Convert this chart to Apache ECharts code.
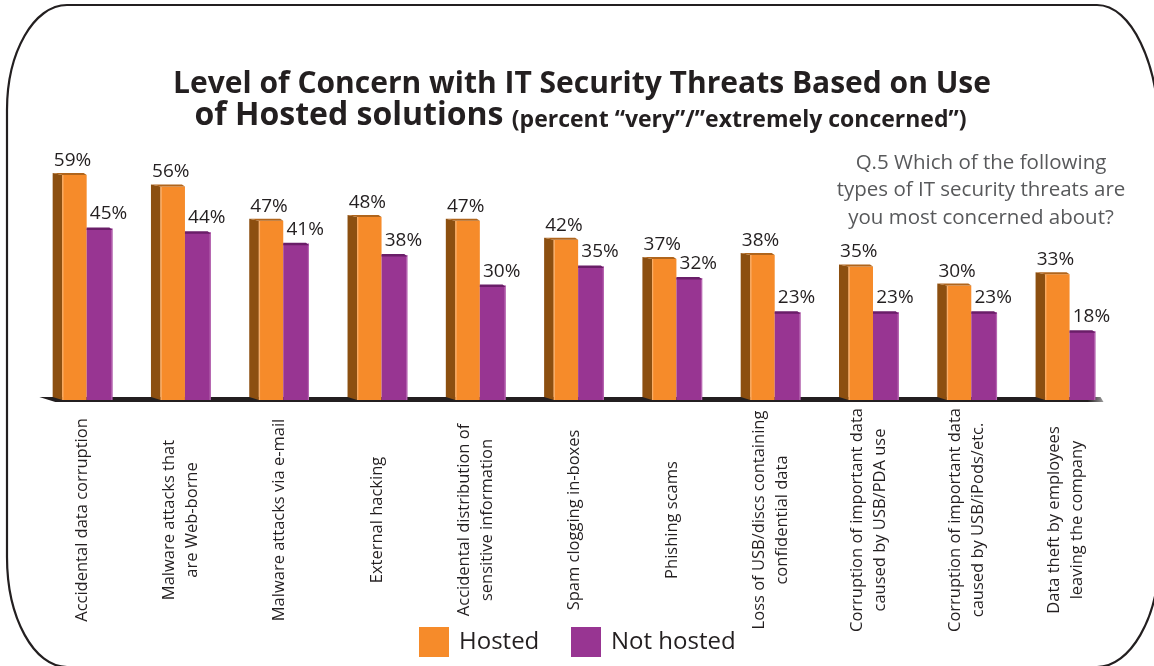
<!DOCTYPE html>
<html>
<head>
<meta charset="utf-8">
<title>Level of Concern with IT Security Threats</title>
<script src="https://cdn.jsdelivr.net/npm/echarts@6/dist/echarts.min.js"></script>
<style>
  html, body { margin: 0; padding: 0; background: #ffffff; }
  #chart { width: 1154px; height: 666px; }
</style>
</head>
<body>
<div id="chart"></div>
<script>
// ---- data ----
const categories = [
  'Accidental data corruption',
  'Malware attacks that\nare Web-borne',
  'Malware attacks via e-mail',
  'External hacking',
  'Accidental distribution of\nsensitive information',
  'Spam clogging in-boxes',
  'Phishing scams',
  'Loss of USB/discs containing\nconfidential data',
  'Corruption of important data\ncaused by USB/PDA use',
  'Corruption of important data\ncaused by USB/iPods/etc.',
  'Data theft by employees\nleaving the company'
];
const hosted    = [59, 56, 47, 48, 47, 42, 37, 38, 35, 30, 33];
const notHosted = [45, 44, 41, 38, 30, 35, 32, 23, 23, 23, 18];
const seriesNames = ['Hosted', 'Not hosted'];
const titleLine1 = 'Level of Concern with IT Security Threats Based on Use';
const titleLine2 = 'of Hosted solutions';
const titleNote = '(percent \u201Cvery\u201D/\u201Dextremely concerned\u201D)';
const questionLines = [
  'Q.5 Which of the following',
  'types of IT security threats are',
  'you most concerned about?'
];

// ---- styling ----
const FONT = '"Open Sans", "Noto Sans", sans-serif';
const INK = '#231f20';
const ORANGE = '#f68b2a';
const ORANGE_SIDE = '#8c4f10';
const PURPLE = '#983592';
const PURPLE_TOP = '#6a1e68';

// Bars are drawn as small 3D prisms: a dark left face plus the front face.
function renderHosted(params, api) {
  const i = api.value(0), v = api.value(1);
  const base = api.coord([i, 0]);
  const top = api.coord([i, v]);
  const band = api.size([1, 0])[0];
  const side = band * 0.098;
  const w = band * 0.248;
  const x0 = base[0] - band * 0.205;
  const y0 = base[1], yt = top[1];
  return {
    type: 'group',
    children: [
      { type: 'polygon', shape: { points: [[x0 - side, yt - 2], [x0, yt], [x0, y0], [x0 - side, y0 - 3]] },
        style: { fill: ORANGE_SIDE } },
      { type: 'rect', shape: { x: x0, y: yt, width: w, height: y0 - yt }, style: { fill: ORANGE } },
      { type: 'rect', shape: { x: x0, y: yt, width: 1.2, height: y0 - yt }, style: { fill: '#f9ae68' } },
      { type: 'polygon', shape: { points: [[x0 - side, yt - 2], [x0 + w - 3, yt - 2], [x0 + w, yt], [x0, yt]] },
        style: { fill: '#b0651c' } },
      { type: 'text', style: { text: v + '%', x: x0 + w / 2 - 2, y: yt - 5, align: 'center', verticalAlign: 'bottom',
        font: '19px ' + FONT, fill: INK } }
    ]
  };
}

function renderNotHosted(params, api) {
  const i = api.value(0), v = api.value(1);
  const base = api.coord([i, 0]);
  const top = api.coord([i, v]);
  const band = api.size([1, 0])[0];
  const w = band * 0.262;
  const x0 = base[0] + band * 0.043;
  const y0 = base[1], yt = top[1];
  return {
    type: 'group',
    children: [
      { type: 'rect', shape: { x: x0, y: yt, width: w, height: y0 - yt }, style: { fill: PURPLE } },
      { type: 'rect', shape: { x: x0 + w - 1.2, y: yt, width: 1.2, height: y0 - yt }, style: { fill: '#b766b1' } },
      { type: 'polygon', shape: { points: [[x0, yt - 1], [x0 + w - 3, yt - 1], [x0 + w, yt + 1.5], [x0, yt + 1.5]] },
        style: { fill: PURPLE_TOP } },
      { type: 'text', style: { text: v + '%', x: x0 + w / 2 + 9, y: yt - 5, align: 'center', verticalAlign: 'bottom',
        font: '19px ' + FONT, fill: INK } }
    ]
  };
}

// Dark floor strip under the bars
function renderFloor(params, api) {
  const cs = params.coordSys;
  const by = api.coord([0, 0])[1];
  const left = cs.x + 6, right = cs.x + cs.width - 14;
  return {
    type: 'polygon',
    shape: { points: [[left, by - 3], [right, by - 3], [right + 3, by + 2], [left + 16, by + 2]] },
    style: {
      fill: {
        type: 'linear', x: 0, y: 0, x2: 1, y2: 0,
        colorStops: [
          { offset: 0, color: INK }, { offset: 0.985, color: INK }, { offset: 1, color: '#9a9a9a' }
        ]
      }
    }
  };
}

// Rounded frame built from straight edges and elliptical corners
const frameStyle = { stroke: INK, lineWidth: 2.2, fill: null };
function edge(x1, y1, x2, y2) {
  return { type: 'line', silent: true, shape: { x1, y1, x2, y2 }, style: frameStyle };
}
function corner(x1, y1, cpx1, cpy1, cpx2, cpy2, x2, y2) {
  return { type: 'bezierCurve', silent: true, shape: { x1, y1, cpx1, cpy1, cpx2, cpy2, x2, y2 }, style: frameStyle };
}

const chart = echarts.init(document.getElementById('chart'), null, { renderer: 'canvas' });

const legendBase = {
  orient: 'horizontal', padding: 0, itemWidth: 30, itemHeight: 30, icon: 'rect',
  selectedMode: false, top: 627,
  textStyle: { fontFamily: FONT, fontSize: 24, color: INK, padding: [0, 0, 0, 5] }
};

chart.setOption({
  animation: false,
  backgroundColor: '#ffffff',
  grid: { left: 33.3, right: 39.5, top: 171.2, bottom: 266, containLabel: false },
  xAxis: {
    type: 'category',
    data: categories,
    axisLine: { show: false },
    axisTick: { show: false },
    axisLabel: {
      interval: 0, rotate: 90, margin: 120, align: 'center', verticalAlign: 'middle',
      fontFamily: FONT, fontSize: 16.5, lineHeight: 23, color: INK
    }
  },
  yAxis: { type: 'value', min: 0, max: 60, show: false },
  legend: [
    Object.assign({}, legendBase, { left: 419, data: [seriesNames[0]] }),
    Object.assign({}, legendBase, { left: 571, data: [seriesNames[1]] })
  ],
  series: [
    { type: 'custom', name: 'floor', renderItem: renderFloor, data: [[0, 0]], z: 1, silent: true },
    { type: 'custom', name: seriesNames[0], renderItem: renderHosted, itemStyle: { color: ORANGE },
      data: hosted.map((v, i) => [i, v]), z: 2 },
    { type: 'custom', name: seriesNames[1], renderItem: renderNotHosted, itemStyle: { color: PURPLE },
      data: notHosted.map((v, i) => [i, v]), z: 2 }
  ],
  graphic: [
    { type: 'group', silent: true, children: [
      edge(67, 5, 1097, 5),
      corner(1097, 5, 1131, 5, 1159, 63, 1159, 135),
      edge(1159, 135, 1159, 557),
      corner(1159, 557, 1159, 618, 1130, 667, 1097, 667),
      edge(1097, 667, 67, 667),
      corner(67, 667, 34, 667, 7, 618, 7, 557),
      edge(7, 557, 7, 110),
      corner(7, 110, 7, 52, 34, 5, 67, 5)
    ] },
    { type: 'text', silent: true,
      style: { text: titleLine1, x: 582, y: 84, align: 'center', verticalAlign: 'middle',
        font: 'bold 30px ' + FONT, fill: INK } },
    { type: 'text', silent: true,
      style: { text: '{a|' + titleLine2 + ' }{b|' + titleNote + '}', x: 580.5, y: 116, align: 'center', verticalAlign: 'middle',
        rich: {
          a: { fontFamily: FONT, fontWeight: 'bold', fontSize: 32, fill: INK, verticalAlign: 'bottom' },
          b: { fontFamily: FONT, fontWeight: 'bold', fontSize: 23, fill: INK, verticalAlign: 'bottom' }
        } } },
    { type: 'text', silent: true,
      style: { text: questionLines.join('\n'), x: 981, y: 149, align: 'center', verticalAlign: 'top',
        font: '20.5px ' + FONT, lineHeight: 27.5, fill: '#58595b' } }
  ]
});
</script>
</body>
</html>
